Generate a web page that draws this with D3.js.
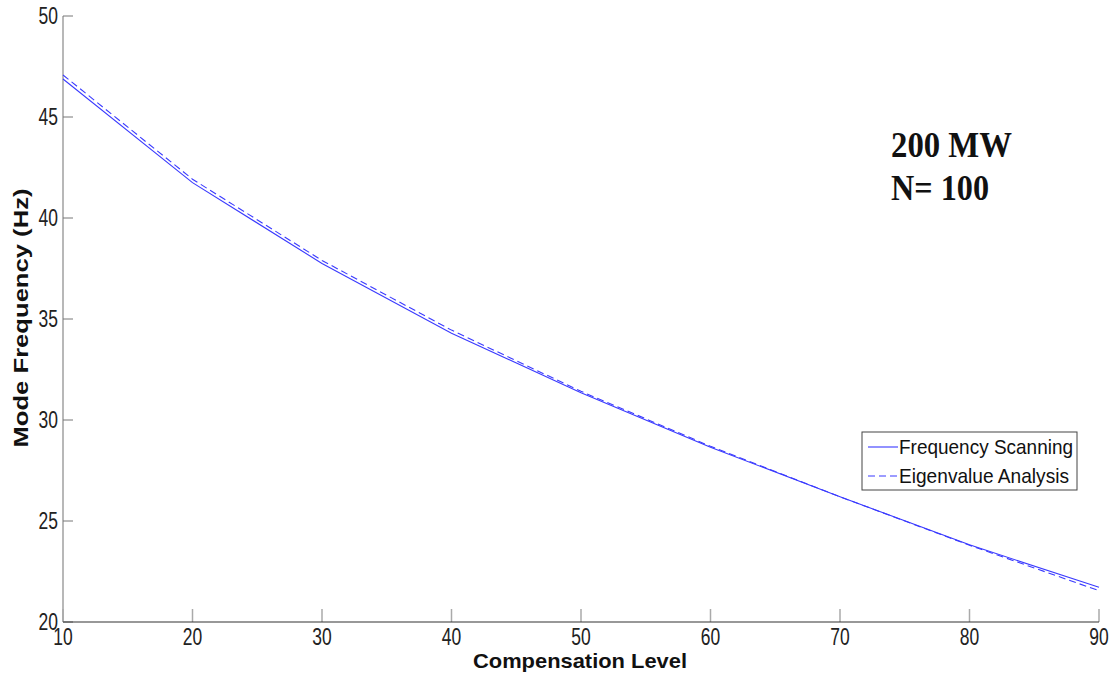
<!DOCTYPE html>
<html><head><meta charset="utf-8">
<script src="https://cdn.jsdelivr.net/npm/d3@7"></script>
<style>body{margin:0;background:#fff}svg{display:block}</style>
</head><body>
<svg id="c" width="1116" height="676"></svg>
<script>
const compensation = [10, 20, 30, 40, 50, 60, 70, 80, 90];
const freqScanning = [46.88, 41.75, 37.75, 34.3, 31.35, 28.65, 26.2, 23.82, 21.72];
const eigenAnalysis = [47.08, 41.92, 37.9, 34.45, 31.42, 28.7, 26.2, 23.8, 21.55];
const xTicks = [10, 20, 30, 40, 50, 60, 70, 80, 90];
const yTicks = [20, 25, 30, 35, 40, 45, 50];
const seriesNames = ["Frequency Scanning", "Eigenvalue Analysis"];

const svg = d3.select("#c");
const x = d3.scaleLinear().domain([10, 90]).range([63, 1099]);
const y = d3.scaleLinear().domain([20, 50]).range([622, 16]);
const font = "Liberation Sans, Arial, sans-serif";
const tickFs = 23, tickSx = 0.76;

// left axis
const ga = svg.append("g").attr("transform", `translate(${x(10)},0)`);
ga.append("line").attr("y1", y(50)).attr("y2", y(20)).attr("stroke", "#a0a0a0").attr("stroke-width", 1.5);
ga.selectAll("line.t").data(yTicks).join("line").attr("class","t")
  .attr("x1", 0).attr("x2", 10).attr("y1", d => y(d)).attr("y2", d => y(d))
  .attr("stroke", "#777").attr("stroke-width", 1);
ga.selectAll("text").data(yTicks).join("text")
  .attr("transform", d => `translate(-5,${y(d)}) scale(${tickSx},1)`)
  .attr("dy", "0.35em")
  .attr("text-anchor", "end").attr("font-family", font).attr("font-size", tickFs)
  .attr("fill", "#222").text(d => d);

// bottom axis
const gb = svg.append("g");
gb.selectAll("line.t").data(xTicks).join("line").attr("class","t")
  .attr("x1", d => x(d)).attr("x2", d => x(d)).attr("y1", y(20)).attr("y2", y(20) - 13)
  .attr("stroke", "#aaa").attr("stroke-width", 1.5);
gb.append("line").attr("x1", x(10)).attr("x2", x(90)).attr("y1", y(20)).attr("y2", y(20))
  .attr("stroke", "#333").attr("stroke-width", 1.2);
gb.selectAll("text").data(xTicks).join("text")
  .attr("transform", d => `translate(${x(d)},${y(20) + 23}) scale(${tickSx},1)`)
  .attr("text-anchor", "middle").attr("font-family", font).attr("font-size", tickFs)
  .attr("fill", "#222").text(d => d);

// labels
svg.append("text").attr("x", 580).attr("y", 668).attr("text-anchor", "middle")
  .attr("font-family", font).attr("font-weight", "bold").attr("font-size", 21)
  .attr("textLength", 214).attr("lengthAdjust", "spacingAndGlyphs")
  .attr("fill", "#111").text("Compensation Level");
svg.append("text").attr("transform", `translate(28,318) rotate(-90)`)
  .attr("text-anchor", "middle")
  .attr("font-family", font).attr("font-weight", "bold").attr("font-size", 20)
  .attr("textLength", 259).attr("lengthAdjust", "spacingAndGlyphs")
  .attr("fill", "#111").text("Mode Frequency (Hz)");

// lines
const line = d3.line().x((d, i) => x(compensation[i])).y(d => y(d));
svg.append("path").datum(freqScanning).attr("d", line)
  .attr("fill", "none").attr("stroke", "#3a3aff").attr("stroke-width", 1.1);
svg.append("path").datum(eigenAnalysis).attr("d", line)
  .attr("fill", "none").attr("stroke", "#3a3aff").attr("stroke-width", 1.1)
  .attr("stroke-dasharray", "7,4");

// annotation
const ann = svg.append("g").attr("font-family", "Liberation Serif, Times New Roman, serif")
  .attr("font-weight", "bold").attr("font-size", 35).attr("fill", "#111");
ann.append("text").attr("x", 891).attr("y", 157).attr("textLength", 121)
  .attr("lengthAdjust", "spacingAndGlyphs").text("200 MW");
ann.append("text").attr("x", 891).attr("y", 200).attr("textLength", 98)
  .attr("lengthAdjust", "spacingAndGlyphs").text("N= 100");

// legend
const lg = svg.append("g");
lg.append("rect").attr("x", 862).attr("y", 432).attr("width", 215).attr("height", 58)
  .attr("fill", "#fff").attr("stroke", "#444").attr("stroke-width", 1);
const legLens = [174, 170];
seriesNames.forEach((n, i) => {
  const yy = 447 + i * 29;
  lg.append("line").attr("x1", 868).attr("x2", 898).attr("y1", yy).attr("y2", yy)
    .attr("stroke", "#3a3aff").attr("stroke-width", 1.1)
    .attr("stroke-dasharray", i === 1 ? "7,4" : null);
  lg.append("text").attr("x", 899).attr("y", yy).attr("dy", "0.35em")
    .attr("font-family", font).attr("font-size", 21).attr("fill", "#111")
    .attr("textLength", legLens[i]).attr("lengthAdjust", "spacingAndGlyphs").text(n);
});
</script>
</body></html>
